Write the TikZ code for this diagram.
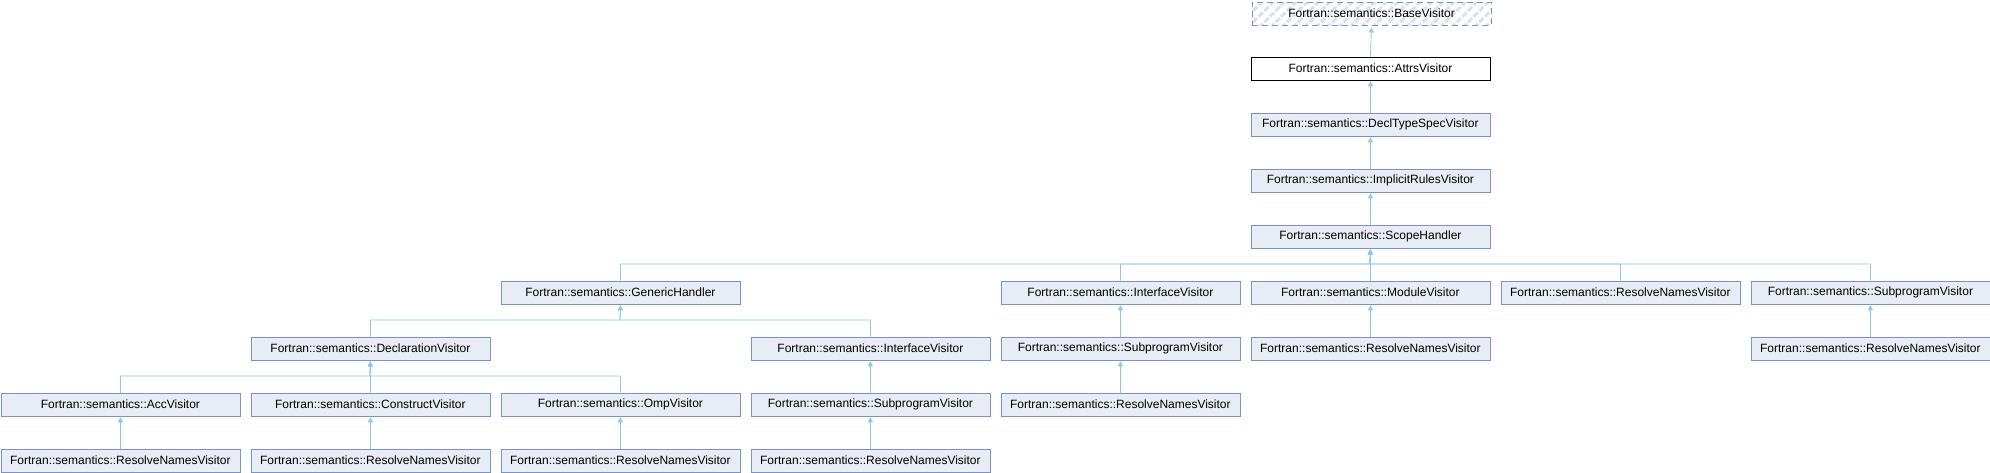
\documentclass[tikz,border=0pt]{standalone}
\usepackage{fontspec}
\setmainfont{Liberation Sans}
\usetikzlibrary{arrows.meta,patterns.meta}
\definecolor{boxfill}{HTML}{E8ECF4}
\definecolor{boxline}{HTML}{7B93C8}
\definecolor{edgeblue}{HTML}{8CC8EC}
\definecolor{hatch}{HTML}{D9E0EE}
\begin{document}
\begin{tikzpicture}[x=1pt,y=-1pt,
  cls/.style={draw=boxline,fill=boxfill,line width=0.8pt,minimum width=239pt,minimum height=23pt,inner sep=0pt,anchor=north west,font=\fontsize{12}{14}\selectfont},
  link/.style={draw=edgeblue,line width=0.8pt,-{Triangle[width=5pt,length=5pt]},shorten >=1pt}]
\useasboundingbox (0,0) rectangle (1990,472);
% chain of bases
\node[cls,dash pattern=on 6pt off 4pt,fill=white,pattern={Lines[angle=45,distance=8pt,line width=3pt]},pattern color=hatch] (base) at (1250.5,0.5) {Fortran::semantics::BaseVisitor};
\node[cls,draw=black,fill=white] (attrs) at (1250.5,56.5) {Fortran::semantics::AttrsVisitor};
\node[cls] (decltype) at (1250.5,112.5) {Fortran::semantics::DeclTypeSpecVisitor};
\node[cls] (implicit) at (1250.5,168.5) {Fortran::semantics::ImplicitRulesVisitor};
\node[cls] (scope) at (1250.5,224.5) {Fortran::semantics::ScopeHandler};
% row 5
\node[cls] (generic) at (500.5,280.5) {Fortran::semantics::GenericHandler};
\node[cls] (interface) at (1000.5,280.5) {Fortran::semantics::InterfaceVisitor};
\node[cls] (module) at (1250.5,280.5) {Fortran::semantics::ModuleVisitor};
\node[cls] (resolvea) at (1500.5,280.5) {Fortran::semantics::ResolveNamesVisitor};
\node[cls] (subprog) at (1750.5,280.5) {Fortran::semantics::SubprogramVisitor};
% row 6
\node[cls] (decl) at (250.5,336.5) {Fortran::semantics::DeclarationVisitor};
\node[cls] (interfaceb) at (750.5,336.5) {Fortran::semantics::InterfaceVisitor};
\node[cls] (subproga) at (1000.5,336.5) {Fortran::semantics::SubprogramVisitor};
\node[cls] (resolveb) at (1250.5,336.5) {Fortran::semantics::ResolveNamesVisitor};
\node[cls] (resolvec) at (1750.5,336.5) {Fortran::semantics::ResolveNamesVisitor};
% row 7
\node[cls] (acc) at (0.5,392.5) {Fortran::semantics::AccVisitor};
\node[cls] (construct) at (250.5,392.5) {Fortran::semantics::ConstructVisitor};
\node[cls] (omp) at (500.5,392.5) {Fortran::semantics::OmpVisitor};
\node[cls] (subprogb) at (750.5,392.5) {Fortran::semantics::SubprogramVisitor};
\node[cls] (resolved) at (1000.5,392.5) {Fortran::semantics::ResolveNamesVisitor};
% row 8
\node[cls] (resolvee) at (0.5,448.5) {Fortran::semantics::ResolveNamesVisitor};
\node[cls] (resolvef) at (250.5,448.5) {Fortran::semantics::ResolveNamesVisitor};
\node[cls] (resolveg) at (500.5,448.5) {Fortran::semantics::ResolveNamesVisitor};
\node[cls] (resolveh) at (750.5,448.5) {Fortran::semantics::ResolveNamesVisitor};
% bars
\coordinate (scopebar) at (1370,264);
\coordinate (genericbar) at (620,320);
\coordinate (declbar) at (370,376);
% links
\draw[link] (attrs.north) -- (base.south);
\draw[link] (decltype.north) -- (attrs.south);
\draw[link] (implicit.north) -- (decltype.south);
\draw[link] (scope.north) -- (implicit.south);
\draw[link] (generic.north) |- (scopebar) -- (scope.south);
\draw[link] (interface.north) |- (scopebar) -- (scope.south);
\draw[link] (module.north) -- (scope.south);
\draw[link] (resolvea.north) |- (scopebar) -- (scope.south);
\draw[link] (subprog.north) |- (scopebar) -- (scope.south);
\draw[link] (decl.north) |- (genericbar) -- (generic.south);
\draw[link] (interfaceb.north) |- (genericbar) -- (generic.south);
\draw[link] (subproga.north) -- (interface.south);
\draw[link] (resolveb.north) -- (module.south);
\draw[link] (resolvec.north) -- (subprog.south);
\draw[link] (acc.north) |- (declbar) -- (decl.south);
\draw[link] (construct.north) |- (declbar) -- (decl.south);
\draw[link] (omp.north) |- (declbar) -- (decl.south);
\draw[link] (subprogb.north) -- (interfaceb.south);
\draw[link] (resolved.north) -- (subproga.south);
\draw[link] (resolvee.north) -- (acc.south);
\draw[link] (resolvef.north) -- (construct.south);
\draw[link] (resolveg.north) -- (omp.south);
\draw[link] (resolveh.north) -- (subprogb.south);
\end{tikzpicture}
\end{document}
